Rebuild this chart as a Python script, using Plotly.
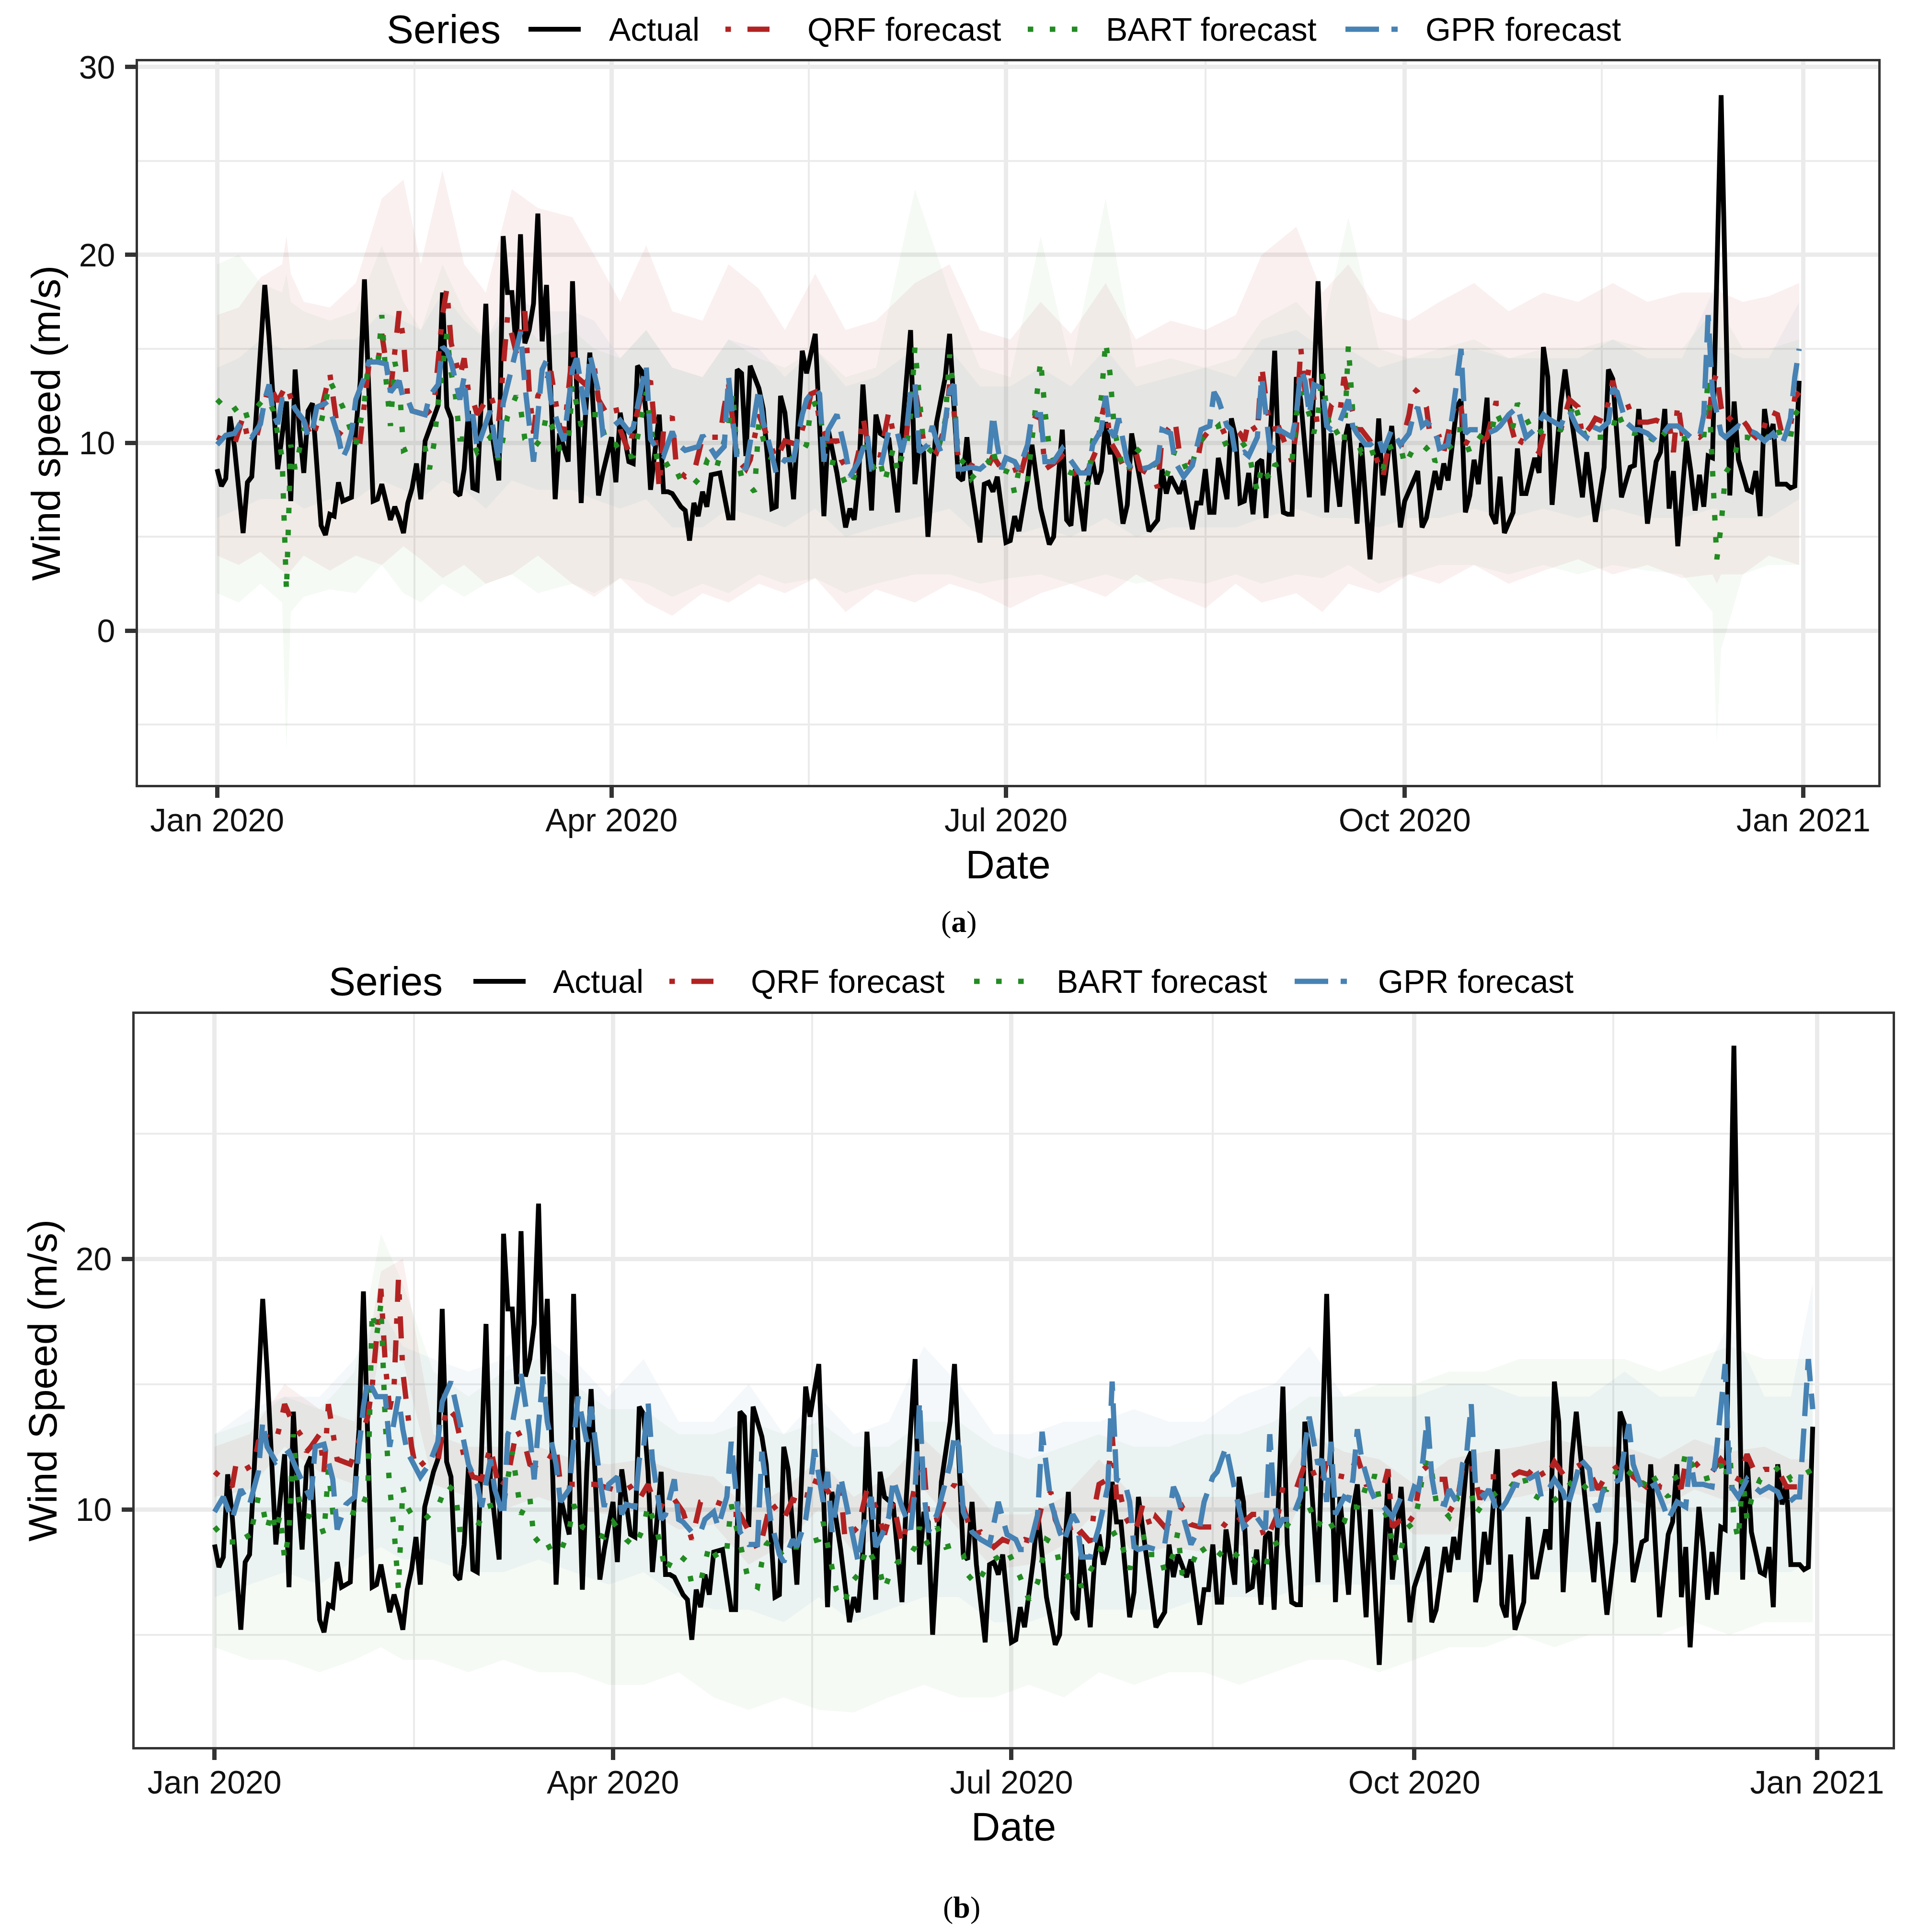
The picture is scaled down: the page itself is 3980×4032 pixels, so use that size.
import pandas as pd
import plotly.graph_objects as go

# ---------------------------------------------------------------------------
# DATA  (day offset from 2020-01-01, wind speed in m/s)
# ---------------------------------------------------------------------------
SERIES_NAMES = ["Actual", "QRF forecast", "BART forecast", "GPR forecast"]
X_TICK_DATES = ["2020-01-01", "2020-04-01", "2020-07-01", "2020-10-01", "2021-01-01"]
X_TICK_LABELS = ["Jan 2020", "Apr 2020", "Jul 2020", "Oct 2020", "Jan 2021"]
X_MINOR_DATES = ["2020-02-15 12:00", "2020-05-16 12:00", "2020-08-16", "2020-11-15 12:00"]
Y_TICKS_A = [0, 10, 20, 30]
Y_MINOR_A = [-5, 5, 15, 25]
Y_TICKS_B = [10, 20]
Y_MINOR_B = [5, 15, 25]

ACTUAL = [(0,8.6),(1,7.7),(2,8.1),(3,11.4),(4,9.8),(6,5.2),(7,7.9),(8,8.2),(9,11.4),(11,18.4),(12,15.6),(14,8.6),(16,12.2),(17,6.9),(18,13.9),(19,10.7),(20,8.4),(21,11.7),(22,12.1),(24,5.6),(25,5.1),(26,6.2),(27,6.1),(28,7.9),(29,6.9),(31,7.1),(32,10.7),(33,13.2),(34,18.7),(36,6.9),(37,7.0),(38,7.8),(40,5.9),(41,6.6),(42,6.0),(43,5.2),(44,6.8),(45,7.6),(46,8.9),(47,7.0),(48,10.1),(50,11.5),(51,12.0),(52,18.0),(53,11.9),(54,11.3),(55,7.4),(56,7.2),(57,8.6),(58,11.7),(59,7.6),(60,7.5),(62,17.4),(63,11.2),(65,8.0),(66,21.0),(67,18.0),(68,18.0),(69,15.0),(70,21.1),(71,15.3),(72,16.0),(73,17.4),(74,22.2),(75,15.4),(76,18.4),(78,7.0),(79,10.5),(81,9.0),(82,18.6),(84,6.8),(85,11.5),(86,14.8),(88,7.2),(89,8.4),(91,10.3),(92,7.9),(93,11.6),(95,9.0),(96,8.9),(97,14.1),(98,13.8),(99,11.5),(100,7.5),(101,9.5),(102,11.5),(103,7.4),(104,7.4),(105,7.3),(107,6.6),(108,6.4),(109,4.8),(110,6.8),(111,6.1),(112,7.4),(113,6.6),(114,8.3),(116,8.4),(118,6.0),(119,6.0),(120,13.9),(121,13.7),(122,9.3),(123,14.1),(125,12.9),(126,11.8),(128,6.5),(129,6.6),(130,12.5),(131,11.6),(133,7.0),(134,10.5),(135,14.9),(136,13.7),(138,15.8),(140,6.1),(141,10.7),(143,8.4),(145,5.5),(146,6.5),(147,5.9),(148,8.1),(149,13.1),(151,6.4),(152,11.5),(153,10.5),(155,10.2),(157,6.3),(158,10.5),(160,16.0),(161,7.8),(162,9.9),(163,9.5),(164,5.0),(166,11.1),(168,13.5),(169,15.8),(171,8.2),(172,8.0),(173,10.3),(174,7.8),(176,4.7),(177,7.8),(178,7.9),(179,7.4),(180,8.2),(182,4.7),(183,4.8),(184,6.1),(185,5.3),(187,8.0),(188,9.9),(190,6.5),(192,4.6),(193,5.0),(195,10.7),(196,5.9),(197,5.6),(198,8.6),(200,5.3),(201,8.0),(202,9.0),(203,7.8),(204,8.5),(205,11.1),(206,9.5),(207,9.5),(209,5.7),(210,6.7),(211,10.5),(213,7.8),(215,5.3),(217,5.9),(218,8.6),(219,7.3),(220,8.2),(222,7.3),(223,8.0),(225,5.4),(226,6.8),(227,6.8),(228,8.6),(229,6.3),(230,6.3),(231,9.2),(233,7.0),(234,11.3),(235,10.3),(236,6.8),(237,6.9),(238,8.4),(239,6.2),(240,8.9),(241,9.1),(242,6.0),(244,14.9),(245,8.6),(246,6.3),(247,6.2),(248,6.2),(249,13.5),(250,12.3),(252,7.1),(254,18.6),(256,6.3),(257,10.5),(259,6.6),(260,10.0),(261,11.0),(263,5.7),(264,10.0),(266,3.8),(268,11.3),(269,7.2),(271,10.9),(273,5.5),(274,6.9),(277,8.5),(278,5.5),(279,6.0),(281,8.5),(282,7.5),(283,8.9),(284,8.0),(286,11.9),(287,12.3),(288,6.3),(289,7.2),(290,9.1),(291,7.8),(293,12.4),(294,6.2),(295,5.7),(296,8.2),(297,5.2),(299,6.3),(300,9.7),(301,7.3),(302,7.3),(304,9.2),(305,8.4),(306,15.1),(307,13.5),(308,6.7),(310,12.1),(311,13.9),(312,12.1),(315,7.1),(316,9.5),(318,5.8),(320,8.7),(321,13.9),(322,13.4),(324,7.1),(326,8.7),(327,8.8),(328,11.8),(330,5.7),(332,9.0),(333,9.5),(334,11.8),(335,6.5),(336,8.5),(337,4.5),(339,10.1),(340,8.5),(341,6.4),(342,8.3),(343,6.6),(344,9.3),(345,9.2),(347,28.5),(349,7.2),(350,12.2),(351,9.1),(353,7.5),(354,7.4),(355,8.5),(356,6.1),(357,11.8),(358,10.2),(359,11.0),(360,7.8),(362,7.8),(363,7.6),(364,7.7),(365,13.3)]

# ---- panel (a) forecasts ----
QRF_A = [(0,10.3),(4,9.9),(6,11.4),(7,10.3),(9,10.2),(12,13.1),(14,12.2),(16,13.1),(18,11.7),(20,11.2),(22,10.2),(24,11.7),(26,13.7),(27,11.9),(28,10.4),(29,10.7),(31,10.2),(33,10.1),(34,12.3),(35,14.1),(37,14.1),(38,15.8),(40,12.7),(42,17.0),(43,15.5),(44,12.3),(45,11.7),(48,11.5),(50,11.9),(52,16.8),(53,18.2),(54,15.3),(56,13.5),(57,14.5),(58,12.7),(59,12.3),(60,11.5),(63,12.6),(65,11.2),(67,16.7),(69,14.8),(71,17.0),(72,12.8),(73,10.5),(74,12.5),(77,13.8),(79,10.9),(80,10.4),(82,14.9),(83,13.5),(85,13.1),(87,14.1),(88,12.3),(90,11.5),(92,11.9),(93,10.7),(95,9.5),(96,10.7),(98,12.7),(100,13.3),(101,10.7),(102,7.6),(103,10.7),(105,11.4),(106,8.6),(108,8.2),(110,8.4),(112,10.3),(114,10.3),(116,10.3),(117,11.9),(118,13.1),(120,9.1),(122,8.6),(123,9.1),(125,11.5),(127,10.3),(129,9.1),(131,10.1),(134,9.9),(136,11.5),(137,12.6),(138,12.7),(139,11.1),(141,10.1),(143,10.1),(144,9.1),(146,8.3),(147,8.5),(148,9.5),(149,11.4),(150,10.1),(153,9.3),(155,11.7),(156,10.5),(157,10.3),(159,10.3),(160,12.7),(161,12.9),(163,10.1),(165,9.7),(166,9.5),(168,10.9),(169,13.1),(170,11.7),(171,9.1),(173,9.0),(174,8.8),(176,8.6),(178,8.8),(179,9.3),(181,8.6),(182,8.6),(184,8.7),(185,8.0),(187,9.7),(188,11.5),(190,11.3),(191,8.6),(193,8.9),(195,9.3),(197,8.6),(199,8.0),(201,8.6),(203,9.7),(204,11.3),(205,12.3),(206,10.1),(208,9.3),(210,8.3),(212,9.5),(213,8.6),(216,8.2),(217,7.6),(218,10.3),(221,11.2),(222,9.5),(224,9.0),(226,8.8),(227,10.1),(229,10.7),(231,10.5),(233,10.7),(234,10.9),(236,10.5),(237,10.1),(238,11.2),(240,10.5),(241,14.1),(242,12.3),(243,10.7),(245,10.8),(248,9.0),(249,10.7),(250,15.1),(251,12.7),(252,14.1),(254,10.7),(256,10.9),(257,11.9),(259,11.5),(260,13.5),(261,12.5),(263,10.7),(264,10.7),(266,10.1),(269,8.2),(270,9.5),(273,9.7),(275,11.5),(276,12.9),(277,12.7),(279,11.9),(280,10.1),(282,10.3),(283,9.5),(285,11.5),(286,12.3),(287,11.9),(288,9.9),(289,10.3),(292,10.1),(293,10.3),(295,12.1),(296,12.1),(298,11.4),(299,10.5),(300,9.7),(301,10.1),(303,9.9),(305,9.5),(306,10.5),(310,10.7),(312,12.3),(314,11.9),(315,10.3),(317,10.9),(318,11.3),(320,11.1),(322,13.3),(323,12.3),(325,12.3),(327,11.1),(328,11.1),(330,11.1),(332,11.2),(333,11.1),(335,11.1),(336,9.5),(337,12.1),(338,10.5),(340,10.5),(342,10.3),(343,10.5),(344,10.9),(345,13.1),(346,13.7),(347,11.9),(348,11.1),(350,11.5),(351,11.5),(353,10.9),(354,10.5),(356,10.1),(358,11.7),(360,11.5),(361,10.5),(363,10.9),(364,12.4),(365,12.7)]

BART_A = [(0,12.3),(3,11.6),(6,12.1),(7,11.3),(11,12.4),(12,12.2),(13,11.7),(14,10.5),(15,9.2),(16,2.1),(17,9.9),(18,8.6),(20,10.7),(22,11.0),(24,11.1),(25,12.1),(26,13.3),(29,11.9),(32,9.9),(34,12.2),(35,14.5),(37,13.9),(38,16.8),(39,13.3),(40,10.9),(41,14.3),(42,13.3),(43,9.6),(45,9.8),(48,9.7),(49,8.6),(50,9.9),(51,12.1),(53,15.8),(54,13.7),(55,12.5),(56,10.2),(58,10.2),(59,10.1),(60,9.5),(63,10.3),(65,9.1),(67,11.4),(69,12.5),(70,11.9),(71,10.2),(73,9.7),(75,10.3),(76,11.5),(78,10.5),(79,9.7),(81,9.9),(82,13.1),(84,10.9),(86,11.5),(88,11.5),(90,9.9),(92,9.9),(94,9.2),(96,9.3),(97,10.3),(99,12.7),(100,10.9),(101,9.7),(102,8.6),(105,9.0),(107,8.0),(108,7.9),(110,7.8),(112,8.3),(113,9.0),(115,8.5),(118,10.9),(119,12.7),(120,9.2),(121,8.2),(124,7.4),(125,11.1),(127,9.3),(129,9.1),(131,9.3),(133,9.1),(135,9.5),(136,9.9),(137,12.0),(138,12.1),(139,11.9),(140,9.9),(141,9.0),(143,8.9),(145,7.8),(146,7.6),(148,8.8),(149,10.1),(150,9.2),(152,8.5),(153,9.0),(154,7.9),(156,9.7),(157,8.4),(158,9.3),(159,9.7),(160,11.5),(161,15.1),(162,12.7),(163,9.9),(164,9.7),(166,9.3),(168,11.2),(169,14.7),(170,12.6),(171,9.2),(173,8.8),(174,8.1),(176,8.6),(178,9.0),(179,9.7),(180,8.6),(182,8.5),(183,8.4),(184,7.3),(185,8.6),(187,8.0),(188,10.3),(189,12.7),(190,14.4),(191,11.7),(192,9.7),(193,9.1),(195,8.6),(197,8.4),(199,8.4),(201,7.8),(202,10.1),(203,11.2),(204,12.4),(205,15.4),(206,13.7),(207,10.7),(209,8.6),(210,8.4),(212,9.7),(213,9.5),(216,9.0),(218,8.2),(219,8.2),(221,9.6),(222,9.5),(224,8.4),(225,8.9),(226,9.7),(228,10.5),(230,10.7),(231,10.9),(232,9.9),(234,10.1),(236,10.2),(237,9.9),(238,9.5),(239,8.4),(240,7.4),(241,8.8),(243,8.0),(244,8.8),(246,9.0),(247,9.0),(248,9.0),(249,11.5),(250,12.7),(252,11.5),(253,10.5),(254,11.5),(255,13.8),(256,11.7),(257,10.5),(258,10.7),(260,9.9),(261,15.2),(262,11.7),(263,10.1),(264,9.5),(266,9.9),(267,9.2),(269,8.6),(270,9.7),(272,9.9),(273,9.9),(274,8.8),(276,9.7),(278,9.9),(279,9.7),(280,9.9),(281,9.0),(283,9.5),(285,9.9),(286,10.7),(287,10.7),(289,9.5),(290,9.9),(292,10.5),(294,10.5),(295,11.7),(297,10.7),(299,10.9),(300,12.1),(302,11.3),(304,10.4),(306,10.7),(307,10.9),(310,10.7),(312,11.3),(313,12.2),(316,10.1),(318,10.3),(320,10.3),(322,10.7),(323,11.7),(325,10.6),(327,10.5),(329,10.7),(331,10.2),(332,10.1),(333,10.7),(335,10.3),(337,10.3),(338,10.2),(340,10.3),(342,10.3),(343,10.3),(344,13.5),(345,9.0),(346,3.8),(347,5.6),(348,8.4),(350,9.1),(351,10.3),(353,10.3),(355,10.1),(357,10.1),(359,10.7),(360,10.9),(361,10.1),(363,10.3),(364,11.5),(365,11.8)]

GPR_A = [(0,9.9),(2,10.4),(4,10.5),(5,10.9),(7,10.5),(8,10.3),(10,11.0),(11,12.3),(12,13.1),(13,11.5),(14,11.0),(15,12.3),(17,12.3),(18,11.8),(20,11.2),(21,10.3),(22,10.7),(23,11.9),(25,12.1),(26,11.8),(28,10.3),(29,9.2),(30,9.7),(31,10.5),(32,12.3),(34,13.5),(35,14.3),(37,14.3),(39,14.2),(40,12.7),(42,13.3),(43,12.3),(44,12.3),(45,11.7),(48,11.5),(49,12.5),(51,13.1),(52,15.1),(53,14.9),(54,14.3),(56,12.3),(57,13.5),(58,10.9),(59,11.5),(60,9.7),(63,11.7),(65,9.0),(66,12.1),(70,15.9),(71,13.1),(73,9.0),(75,13.9),(76,14.4),(77,12.3),(79,10.7),(80,10.1),(82,13.9),(83,14.5),(85,11.5),(86,14.7),(88,12.7),(89,10.5),(91,10.8),(93,11.2),(95,10.6),(96,10.8),(98,13.1),(99,14.1),(100,10.2),(102,9.5),(103,9.3),(105,10.6),(106,10.0),(108,9.6),(111,9.8),(112,10.4),(115,9.3),(117,9.8),(118,13.5),(120,9.0),(122,8.6),(125,12.9),(126,11.1),(127,10.3),(129,8.4),(131,9.1),(133,9.1),(135,11.5),(136,12.3),(138,12.9),(139,12.6),(140,9.0),(141,10.7),(143,11.5),(145,9.5),(146,8.2),(147,8.6),(148,9.0),(150,10.4),(151,8.6),(153,8.6),(154,9.7),(155,10.7),(157,10.5),(158,9.5),(159,10.5),(160,12.7),(161,13.2),(162,9.5),(164,9.9),(165,10.9),(166,10.1),(167,9.5),(169,12.8),(170,13.1),(171,8.6),(172,8.6),(174,8.7),(176,8.6),(178,9.0),(179,11.5),(180,9.9),(181,8.6),(182,9.2),(184,9.0),(185,8.6),(187,9.9),(188,11.5),(190,11.5),(191,9.0),(193,9.0),(195,9.7),(197,9.0),(199,8.4),(201,8.4),(202,9.9),(204,10.7),(205,12.5),(206,10.7),(207,10.3),(208,11.3),(209,10.1),(210,9.0),(211,8.6),(213,8.6),(215,8.7),(217,9.0),(218,10.7),(220,10.5),(221,9.0),(223,8.2),(225,8.8),(227,10.7),(229,10.9),(230,12.7),(231,12.3),(233,10.9),(234,10.7),(235,9.3),(237,9.5),(238,9.3),(240,10.3),(241,13.5),(243,9.5),(244,9.9),(245,10.7),(248,10.3),(249,11.5),(250,13.9),(251,13.3),(252,11.5),(253,13.1),(255,12.9),(256,10.9),(257,10.7),(259,11.1),(261,12.3),(262,10.9),(263,10.5),(265,9.9),(266,9.9),(268,10.3),(269,9.5),(271,10.7),(273,9.9),(275,10.5),(276,11.5),(277,11.9),(278,10.9),(279,11.1),(281,10.7),(282,9.7),(284,9.9),(285,11.5),(286,13.3),(287,15.0),(288,10.5),(289,10.7),(291,10.7),(293,10.5),(295,10.7),(296,10.9),(298,11.5),(300,11.9),(302,10.3),(304,10.7),(306,11.5),(307,11.3),(310,10.9),(311,11.5),(312,11.7),(314,10.7),(316,10.3),(317,10.9),(319,10.7),(321,11.1),(322,12.9),(323,12.7),(325,11.1),(327,10.7),(328,10.7),(330,10.5),(332,10.1),(333,10.3),(335,10.9),(337,10.9),(338,10.7),(340,10.3),(342,10.3),(343,11.5),(344,16.8),(345,12.7),(347,10.5),(348,10.3),(350,10.7),(351,10.9),(353,10.7),(355,10.5),(357,10.1),(359,10.5),(360,10.1),(361,9.9),(362,10.5),(363,11.3),(364,13.5),(365,15.0)]

# ---- panel (b) forecasts ----
QRF_B = [(0,11.5),(4,10.9),(5,11.9),(7,11.6),(9,11.8),(10,12.7),(12,12.9),(14,12.7),(15,13.4),(16,14.2),(18,13.4),(20,12.9),(21,12.3),(22,12.5),(24,13.0),(25,11.5),(26,14.2),(28,12.0),(31,11.8),(33,12.7),(35,13.7),(36,14.9),(38,18.8),(39,15.8),(40,14.0),(41,14.9),(42,19.2),(43,15.5),(44,14.0),(45,12.5),(46,11.6),(48,11.9),(49,11.9),(51,11.9),(53,14.1),(55,13.7),(57,12.1),(59,11.3),(61,11.2),(63,12.5),(65,10.8),(67,11.3),(69,13.2),(71,12.5),(72,11.8),(74,11.6),(76,11.9),(78,12.5),(79,11.0),(82,11.0),(84,11.0),(87,11.0),(91,10.8),(93,10.7),(95,10.9),(97,10.4),(99,11.0),(100,10.5),(102,10.1),(103,10.5),(105,10.4),(107,9.9),(109,8.8),(111,10.3),(113,10.4),(116,10.2),(118,9.8),(120,9.8),(123,8.8),(124,8.4),(125,8.8),(127,10.3),(130,9.6),(132,10.4),(135,10.2),(136,11.2),(139,11.0),(141,10.5),(143,10.8),(144,8.8),(147,9.3),(149,10.8),(151,10.1),(153,9.0),(155,10.3),(157,8.6),(159,10.1),(161,11.9),(162,11.8),(163,9.5),(165,9.6),(167,10.5),(169,11.0),(171,10.1),(173,9.0),(175,9.1),(178,8.5),(180,8.8),(183,8.6),(185,8.8),(187,8.7),(189,10.2),(190,10.5),(191,10.7),(192,9.6),(193,9.2),(195,9.6),(196,8.8),(198,9.1),(200,8.7),(201,10.1),(202,11.0),(204,11.2),(205,13.0),(206,10.5),(207,10.5),(208,9.7),(210,9.1),(211,9.5),(212,10.2),(214,9.2),(215,9.7),(217,9.3),(219,9.6),(221,10.1),(223,9.4),(225,9.3),(228,9.3),(229,9.6),(232,9.2),(234,9.6),(235,9.5),(237,9.8),(238,9.8),(240,8.8),(241,9.1),(243,9.9),(244,10.9),(246,10.9),(247,10.8),(249,11.8),(250,11.9),(252,11.0),(253,11.2),(254,11.9),(255,11.4),(258,11.3),(259,11.3),(261,12.1),(263,11.0),(265,11.0),(267,10.9),(268,11.6),(269,9.3),(271,9.6),(272,9.3),(274,9.8),(276,11.8),(279,11.2),(281,11.2),(282,9.9),(284,10.5),(285,11.6),(287,11.9),(289,10.4),(291,11.3),(293,11.3),(296,11.3),(298,11.5),(300,11.4),(302,11.8),(304,11.2),(306,11.9),(308,11.4),(310,11.6),(312,11.8),(314,11.5),(316,10.8),(318,11.4),(321,11.8),(323,11.6),(324,11.3),(327,10.9),(329,11.2),(330,10.9),(333,10.8),(335,10.9),(336,11.9),(338,11.9),(340,11.5),(342,11.5),(344,12.0),(345,11.8),(347,11.3),(348,11.2),(350,12.2),(352,11.4),(354,11.6),(357,11.6),(359,10.9),(362,10.9),(365,10.9)]

BART_B = [(0,9.3),(3,8.7),(5,8.7),(7,9.1),(8,8.8),(9,9.7),(10,10.5),(11,10.1),(12,9.2),(13,9.9),(14,9.1),(15,9.8),(16,8.0),(17,9.1),(18,13.0),(19,10.7),(20,9.8),(22,9.7),(24,9.5),(25,9.0),(26,11.6),(27,9.9),(29,9.9),(31,9.9),(33,9.8),(35,10.7),(36,17.9),(37,16.9),(38,18.2),(39,13.4),(40,10.9),(41,9.2),(42,6.8),(43,10.9),(44,10.1),(45,9.8),(48,9.6),(51,10.1),(53,11.0),(55,10.7),(56,9.2),(58,9.2),(60,9.3),(62,10.1),(64,10.2),(66,10.2),(68,12.3),(70,9.8),(72,10.5),(73,8.7),(75,9.0),(77,8.3),(79,8.3),(81,9.2),(82,10.2),(84,9.3),(86,9.1),(89,8.9),(91,9.5),(94,8.8),(96,8.5),(98,9.3),(99,10.2),(101,9.2),(102,8.4),(103,7.5),(105,8.2),(106,8.2),(108,7.9),(109,7.0),(111,7.1),(113,8.6),(115,8.0),(117,8.4),(118,10.2),(120,8.8),(121,7.9),(122,7.1),(124,6.9),(125,7.9),(126,8.6),(127,8.8),(130,8.1),(132,8.5),(134,8.5),(136,8.7),(138,8.8),(139,9.5),(140,8.6),(141,7.7),(142,6.8),(144,6.3),(145,7.0),(147,7.4),(149,8.5),(152,7.5),(153,6.8),(154,7.3),(156,7.9),(158,8.0),(160,8.5),(161,9.3),(162,8.6),(164,8.8),(165,9.3),(167,8.5),(169,8.6),(171,8.2),(172,7.4),(174,7.0),(177,7.9),(179,8.1),(181,8.4),(184,7.3),(186,6.4),(188,7.1),(189,7.9),(190,8.8),(192,8.6),(193,7.8),(195,7.3),(197,7.4),(198,6.9),(200,7.5),(202,8.2),(203,8.8),(205,9.0),(206,9.1),(207,8.7),(209,7.6),(210,8.4),(212,9.1),(213,8.2),(216,8.2),(217,7.5),(219,8.2),(220,9.1),(221,7.4),(223,7.7),(225,8.6),(227,8.1),(229,8.1),(231,8.5),(232,8.4),(235,7.9),(237,8.0),(239,7.7),(240,7.6),(241,8.5),(243,8.7),(244,9.1),(246,9.6),(247,9.9),(249,10.9),(250,10.1),(252,9.3),(253,9.7),(254,9.7),(256,9.1),(258,9.5),(259,10.1),(261,10.1),(262,10.8),(264,10.7),(265,11.4),(266,10.4),(268,9.6),(269,8.7),(270,7.9),(271,8.4),(272,9.2),(274,9.5),(275,10.3),(276,11.5),(277,12.0),(278,11.5),(279,10.3),(282,9.7),(284,10.5),(287,10.7),(288,9.8),(290,10.3),(293,10.7),(295,10.7),(297,11.1),(299,11.4),(300,10.7),(302,10.5),(305,10.2),(308,10.7),(311,11.3),(314,10.7),(316,10.8),(318,10.8),(321,11.8),(323,11.5),(326,10.9),(328,11.5),(330,10.9),(332,10.5),(333,11.2),(335,11.4),(336,12.3),(338,11.6),(340,11.2),(342,11.3),(344,11.8),(345,11.2),(346,12.5),(347,9.6),(348,8.8),(349,11.3),(350,9.6),(351,10.4),(353,11.2),(356,11.5),(358,11.8),(360,11.2),(362,11.4),(363,11.4),(365,11.6)]

GPR_B = [(0,9.9),(2,10.5),(4,9.6),(6,10.8),(8,10.2),(10,11.5),(11,13.5),(12,12.5),(14,11.9),(17,12.3),(19,11.5),(21,10.7),(22,10.4),(23,12.5),(25,12.6),(27,11.2),(28,9.2),(30,10.2),(32,10.5),(33,12.5),(34,14.1),(35,15.2),(37,14.5),(39,14.5),(40,12.5),(42,14.5),(43,13.2),(44,12.3),(47,11.3),(49,11.8),(51,12.7),(52,14.3),(54,15.1),(56,13.5),(57,12.6),(58,11.8),(60,11.0),(61,10.1),(63,12.0),(64,10.8),(66,9.7),(67,13.0),(68,13.4),(70,15.4),(72,13.0),(73,11.2),(74,13.4),(75,15.3),(76,13.5),(78,11.8),(79,10.3),(81,10.8),(82,12.7),(83,14.5),(85,12.7),(86,14.1),(88,11.2),(89,10.1),(90,11.0),(92,11.3),(93,9.8),(94,10.2),(96,10.1),(97,12.0),(98,12.5),(99,14.3),(100,12.0),(102,9.6),(103,9.8),(105,11.2),(106,9.6),(107,9.5),(109,9.1),(111,9.1),(112,9.6),(114,9.9),(115,9.3),(117,10.5),(118,12.7),(119,10.9),(120,9.1),(122,8.6),(124,8.6),(125,12.3),(126,11.0),(127,9.6),(129,8.2),(130,7.9),(132,8.8),(133,8.5),(135,9.6),(136,10.8),(137,12.4),(139,10.3),(140,11.5),(141,9.1),(143,11.3),(145,9.6),(147,7.9),(148,9.1),(150,10.5),(151,8.5),(153,9.2),(154,9.7),(155,11.2),(157,10.1),(159,9.2),(160,10.8),(161,14.3),(162,10.7),(163,9.1),(165,9.8),(166,10.5),(168,11.8),(169,13.0),(170,12.5),(171,9.9),(173,9.1),(175,8.8),(177,8.6),(179,10.3),(181,9.0),(183,8.8),(184,8.4),(186,8.4),(187,9.2),(188,9.8),(189,13.1),(190,11.5),(191,10.3),(193,9.1),(194,8.7),(196,9.8),(197,9.5),(198,8.1),(200,8.1),(202,9.3),(204,10.9),(205,15.1),(206,11.2),(208,11.0),(209,10.3),(210,8.5),(211,8.4),(213,8.5),(215,8.4),(217,8.6),(218,9.6),(219,10.9),(220,10.5),(222,9.3),(223,8.6),(225,9.3),(226,10.3),(228,11.3),(229,11.5),(231,12.5),(232,11.5),(233,10.8),(235,9.3),(237,9.6),(238,9.7),(240,9.2),(241,13.0),(242,10.3),(243,9.3),(244,9.6),(246,9.6),(248,10.5),(249,12.5),(250,13.7),(252,11.8),(253,12.0),(254,10.3),(255,12.7),(256,9.8),(258,10.5),(259,10.4),(260,11.2),(261,13.2),(262,12.0),(264,10.8),(265,10.4),(267,10.1),(269,9.7),(271,10.5),(273,10.3),(274,10.9),(275,10.8),(276,12.0),(277,13.7),(278,11.3),(279,10.3),(281,10.2),(282,10.8),(284,10.2),(285,11.8),(286,12.3),(287,14.2),(288,10.9),(290,10.5),(291,10.8),(292,10.4),(293,9.8),(295,10.3),(297,11.0),(299,10.9),(300,11.2),(302,11.4),(303,10.5),(305,10.9),(306,11.2),(308,10.7),(309,10.1),(311,11.3),(312,12.0),(314,11.6),(315,10.3),(316,9.9),(317,10.7),(319,11.0),(321,11.2),(322,12.4),(323,13.4),(324,11.8),(326,10.8),(327,10.8),(329,11.0),(331,10.1),(332,9.6),(334,10.3),(336,10.1),(337,12.1),(338,11.0),(340,11.0),(342,10.9),(343,12.3),(344,14.0),(345,15.8),(346,11.0),(348,10.5),(350,11.2),(351,11.0),(353,10.7),(355,10.9),(357,10.7),(358,10.3),(359,10.2),(361,10.5),(362,10.5),(363,13.0),(364,16.0),(365,14.0)]

# ---- prediction-interval ribbons (coarse read of the faint bands) ----
BAND_A_DAYS = [0,5,10,15,16,17,20,26,32,38,43,47,52,57,62,68,74,82,87,93,99,105,112,118,125,131,138,145,152,161,169,176,183,190,197,205,212,220,228,235,241,249,255,261,268,275,282,290,298,306,314,322,330,338,345,346,347,352,358,365]
QRF_A_HI = [16.8,17.2,18.8,19.5,21.0,19.0,17.5,17.2,18.5,23.0,24.0,19.5,24.5,19.5,18.0,23.5,22.5,22.0,20.0,17.5,20.5,17.0,16.5,19.5,18.2,16.0,19.0,16.0,16.5,18.5,19.5,16.0,15.5,17.5,15.8,18.5,15.5,16.5,16.0,16.8,20.0,21.5,18.0,19.5,17.0,16.5,17.5,18.5,17.0,18.0,17.5,18.5,17.5,18.0,18.0,18.5,18.0,17.5,17.8,18.5]
QRF_A_LO = [4.0,3.5,4.2,3.2,3.0,3.2,4.0,3.2,4.0,3.5,4.5,3.8,2.8,3.5,2.5,3.0,4.0,2.5,1.8,2.8,1.5,0.8,2.0,1.5,2.5,2.0,2.8,1.0,2.2,1.5,2.5,2.0,1.2,2.0,2.5,1.8,3.0,2.0,1.2,2.5,1.5,2.0,1.0,2.5,2.0,3.0,2.5,3.5,2.5,3.2,3.8,3.0,3.5,2.8,3.0,2.5,3.0,3.0,4.0,3.5]
BART_A_HI = [19.5,20.0,18.5,18.0,19.0,17.5,17.0,16.5,17.0,20.5,17.5,16.0,19.5,17.0,15.5,17.0,15.5,16.0,15.0,14.5,16.0,14.0,13.5,15.5,14.5,14.0,15.0,13.5,14.0,23.5,18.0,14.0,13.5,21.0,14.0,23.0,14.0,14.5,14.0,14.5,16.5,17.5,16.0,22.0,15.0,14.5,15.0,15.5,14.5,15.0,15.0,15.5,15.0,15.0,17.0,20.0,17.0,15.0,15.0,15.5]
BART_A_LO = [2.0,1.5,2.5,1.5,-6.4,1.0,1.8,2.2,2.0,3.5,2.0,1.5,2.5,1.8,2.5,3.0,2.0,2.5,2.0,2.8,2.5,1.8,2.5,2.0,3.0,2.5,2.8,2.0,2.5,3.0,3.0,2.5,2.8,3.0,2.5,3.0,2.5,2.8,2.5,3.0,2.5,3.0,2.8,3.5,2.5,3.0,3.5,3.5,3.0,3.5,3.0,3.5,3.2,3.0,1.0,-6.0,-1.0,3.0,3.5,3.5]
GPR_A_HI = [14.0,14.5,15.5,15.0,15.0,15.0,15.0,15.5,15.5,17.0,16.5,16.0,18.0,16.5,15.5,18.0,17.0,17.0,16.5,14.5,16.0,14.0,13.5,15.5,15.0,13.5,15.0,13.0,13.5,15.0,15.0,13.0,13.0,14.0,13.0,15.0,13.0,13.5,14.0,13.5,15.5,16.0,15.0,15.0,14.0,14.5,14.5,15.0,14.5,14.5,14.5,15.5,14.5,14.5,18.0,17.0,15.0,14.5,14.5,17.5]
GPR_A_LO = [6.0,6.5,7.0,7.0,7.0,7.0,6.5,7.0,7.0,8.0,7.5,7.0,8.0,7.5,6.5,8.0,7.5,7.5,7.0,6.5,7.0,5.5,5.5,6.5,6.0,5.5,6.5,5.0,5.5,6.0,6.5,5.0,5.0,5.5,5.0,6.0,5.0,5.5,5.5,5.5,6.0,6.5,6.0,6.0,5.5,6.0,6.0,6.5,6.0,6.5,6.0,6.5,6.0,6.0,6.5,6.5,6.0,6.0,6.0,7.0]

BAND_B_DAYS = [0,8,16,24,32,38,43,50,58,66,74,82,90,98,106,114,122,130,138,146,154,162,170,178,186,194,202,210,218,226,234,242,250,258,266,274,282,290,298,306,314,322,330,338,346,354,360,365]
QRF_B_HI = [12.5,13.0,15.0,14.0,13.5,19.5,20.0,13.0,12.5,12.5,12.5,12.0,11.8,12.0,11.5,11.3,10.0,10.8,12.0,10.5,11.3,12.8,11.5,9.8,9.8,10.5,12.0,10.5,10.5,10.5,10.5,10.8,13.0,12.3,12.0,11.0,12.0,12.3,12.5,12.8,12.5,12.5,12.0,12.8,12.3,12.5,12.0,12.0]
QRF_B_LO = [10.5,10.8,12.5,11.5,11.0,16.5,16.0,11.0,10.5,10.0,10.5,10.0,9.8,10.0,9.2,9.4,7.8,8.6,10.0,8.3,9.3,10.8,9.2,7.6,7.8,8.6,10.0,8.2,8.5,8.3,8.6,8.0,11.0,10.3,10.0,9.0,9.0,10.3,10.5,10.8,10.5,10.5,10.0,10.8,10.3,10.5,10.0,10.0]
BART_B_HI = [13.0,13.5,14.5,14.0,15.5,21.0,19.0,15.5,14.5,15.5,16.0,15.0,14.0,14.0,13.0,13.0,13.5,13.0,13.5,12.5,12.5,13.5,13.5,12.5,12.0,12.5,13.0,12.5,12.5,13.0,13.0,13.5,14.5,14.5,15.0,15.0,15.5,15.5,16.0,16.0,16.0,16.0,15.5,16.0,16.5,16.0,16.0,16.0]
BART_B_LO = [4.5,4.0,4.0,3.5,4.0,4.5,4.0,4.0,3.5,4.0,3.5,3.5,3.0,3.0,3.5,2.5,2.0,2.5,2.0,1.9,2.5,3.0,2.5,2.5,3.0,2.5,3.5,3.0,3.5,3.5,3.0,3.5,4.0,4.0,3.5,4.0,4.5,4.5,5.0,4.5,5.0,5.0,5.0,5.5,5.0,5.5,5.5,5.5]
GPR_B_HI = [13.0,14.0,14.5,14.5,16.0,18.0,16.5,16.0,15.5,16.0,17.0,16.0,14.5,16.0,13.5,13.5,15.0,13.0,14.5,13.0,13.5,16.5,15.0,13.0,13.0,13.5,13.5,14.0,13.5,13.5,14.5,15.0,16.5,14.5,14.5,14.5,15.0,15.0,14.5,14.5,14.5,15.5,14.5,14.5,17.5,14.5,14.5,19.0]
GPR_B_LO = [6.5,7.0,7.5,7.0,8.0,8.5,8.0,8.0,7.5,7.5,8.0,7.5,7.0,7.5,6.5,6.0,6.0,5.5,6.5,5.5,6.0,6.5,6.5,5.5,5.5,6.0,6.0,6.0,6.0,6.5,6.5,6.5,7.0,7.0,7.0,7.0,7.5,7.5,7.5,7.5,7.5,7.5,7.5,7.5,7.5,7.5,7.5,8.0]

# ---------------------------------------------------------------------------
# STYLE / LAYOUT
# ---------------------------------------------------------------------------
W, H = 3980, 4032
BASE = pd.Timestamp("2020-01-01")
FONT = "Liberation Sans, Arial, Helvetica, sans-serif"
SERIF = "Liberation Serif, Times New Roman, serif"
COLORS = {"Actual": "#000000", "QRF forecast": "#B22222",
          "BART forecast": "#228B22", "GPR forecast": "#4682B4"}
DASHES = {"Actual": "solid", "QRF forecast": "11.5px,34.5px,46px,34.5px",
          "BART forecast": "11.5px,34.5px", "GPR forecast": "70px,26px"}
WIDTHS = {"Actual": 10, "QRF forecast": 11, "BART forecast": 11, "GPR forecast": 11}
BAND_FILL = {"QRF forecast": "rgba(178,34,34,0.065)",
             "BART forecast": "rgba(34,139,34,0.045)",
             "GPR forecast": "rgba(70,130,180,0.06)"}
TICK_TEXT = "#111111"


def dates(days):
    return [BASE + pd.Timedelta(days=float(d)) for d in days]


def px_x(x):
    return x / W


def px_y(y):
    return 1 - y / H


X_RANGE = [BASE + pd.Timedelta(days=-18.25), BASE + pd.Timedelta(days=383.25)]

fig = go.Figure()


def add_band(days, lo, hi, name, xa, ya):
    d = dates(days)
    fig.add_trace(go.Scatter(
        x=d + d[::-1], y=list(hi) + list(lo)[::-1], fill="toself",
        fillcolor=BAND_FILL[name], line=dict(width=0), mode="lines",
        hoverinfo="skip", showlegend=False, xaxis=xa, yaxis=ya))


def add_line(pairs, name, xa, ya):
    pairs = sorted(pairs)
    fig.add_trace(go.Scatter(
        x=dates([p[0] for p in pairs]), y=[p[1] for p in pairs], mode="lines",
        name=name, line=dict(color=COLORS[name], width=WIDTHS[name],
                             dash=DASHES[name]),
        showlegend=False, xaxis=xa, yaxis=ya))


# panel (a)
add_band(BAND_A_DAYS, QRF_A_LO, QRF_A_HI, "QRF forecast", "x", "y")
add_band(BAND_A_DAYS, BART_A_LO, BART_A_HI, "BART forecast", "x", "y")
add_band(BAND_A_DAYS, GPR_A_LO, GPR_A_HI, "GPR forecast", "x", "y")
add_line(ACTUAL, "Actual", "x", "y")
add_line(QRF_A, "QRF forecast", "x", "y")
add_line(BART_A, "BART forecast", "x", "y")
add_line(GPR_A, "GPR forecast", "x", "y")

# panel (b)
add_band(BAND_B_DAYS, QRF_B_LO, QRF_B_HI, "QRF forecast", "x2", "y2")
add_band(BAND_B_DAYS, BART_B_LO, BART_B_HI, "BART forecast", "x2", "y2")
add_band(BAND_B_DAYS, GPR_B_LO, GPR_B_HI, "GPR forecast", "x2", "y2")
add_line(ACTUAL, "Actual", "x2", "y2")
add_line(QRF_B, "QRF forecast", "x2", "y2")
add_line(BART_B, "BART forecast", "x2", "y2")
add_line(GPR_B, "GPR forecast", "x2", "y2")

GRID = "#EBEBEB"
BORDER = "#333333"


def x_axis(domain, anchor):
    return dict(
        domain=domain, anchor=anchor, type="date", range=X_RANGE,
        tickmode="array", tickvals=X_TICK_DATES, ticktext=X_TICK_LABELS,
        showgrid=True, gridcolor=GRID, gridwidth=8.5,
        minor=dict(tickmode="array", tickvals=X_MINOR_DATES, showgrid=True,
                   gridcolor=GRID, gridwidth=4.3, ticks=""),
        showline=True, mirror=True, linecolor=BORDER, linewidth=5,
        ticks="outside", ticklen=22, tickwidth=9, tickcolor=BORDER,
        tickfont=dict(family=FONT, size=68, color=TICK_TEXT),
        ticklabelstandoff=-12,
        title=dict(text="Date", font=dict(family=FONT, size=84, color="black"),
                   standoff=28),
        zeroline=False, automargin=False, fixedrange=True)


def y_axis(domain, anchor, rng, ticks, minor, title):
    return dict(
        domain=domain, anchor=anchor, range=rng,
        tickmode="array", tickvals=ticks, ticktext=[str(t) for t in ticks],
        showgrid=True, gridcolor=GRID, gridwidth=8.5,
        minor=dict(tickmode="array", tickvals=minor, showgrid=True,
                   gridcolor=GRID, gridwidth=4.3, ticks=""),
        showline=True, mirror=True, linecolor=BORDER, linewidth=5,
        ticks="outside", ticklen=22, tickwidth=9, tickcolor=BORDER,
        tickfont=dict(family=FONT, size=68, color=TICK_TEXT),
        ticklabelstandoff=7,
        title=dict(text=title, font=dict(family=FONT, size=84, color="black"),
                   standoff=13),
        zeroline=False, automargin=False, fixedrange=True)


fig.update_layout(
    width=W, height=H, margin=dict(l=0, r=0, t=0, b=0),
    paper_bgcolor="white", plot_bgcolor="white", showlegend=False,
    font=dict(family=FONT, size=68, color="black"),
    xaxis=x_axis([px_x(288), px_x(3920)], "y"),
    yaxis=y_axis([px_y(1638), px_y(128)], "x", [-8.2, 30.3],
                 Y_TICKS_A, Y_MINOR_A, "Wind speed (m/s)"),
    xaxis2=x_axis([px_x(281), px_x(3950)], "y2"),
    yaxis2=y_axis([px_y(3646), px_y(2116)], "x2", [0.52, 29.77],
                  Y_TICKS_B, Y_MINOR_B, "Wind Speed (m/s)"),
)

# ---- manual legends (ggplot-style, on top of each panel) ----
KEY_LEN = 109


def add_legend(y_mid, series_x, key_x, text_x):
    fig.add_annotation(x=px_x(series_x), y=px_y(y_mid), xref="paper", yref="paper",
                       text="Series", showarrow=False, xanchor="left",
                       yanchor="middle", font=dict(family=FONT, size=84, color="black"))
    for name, kx, tx in zip(SERIES_NAMES, key_x, text_x):
        fig.add_shape(type="line", xref="paper", yref="paper",
                      x0=px_x(kx), x1=px_x(kx + KEY_LEN),
                      y0=px_y(y_mid), y1=px_y(y_mid),
                      line=dict(color=COLORS[name], width=WIDTHS[name],
                                dash=DASHES[name]))
        fig.add_annotation(x=px_x(tx), y=px_y(y_mid), xref="paper", yref="paper",
                           text=name, showarrow=False, xanchor="left",
                           yanchor="middle",
                           font=dict(family=FONT, size=68, color="black"))


add_legend(61, 805, [1103, 1514, 2145, 2808], [1269, 1683, 2306, 2973])
add_legend(2048, 684, [988, 1397, 2033, 2702], [1152, 1565, 2203, 2874])

# ---- panel captions ----
fig.add_annotation(x=px_x(2002), y=px_y(1923), xref="paper", yref="paper",
                   text="(<b>a</b>)", showarrow=False, xanchor="center",
                   yanchor="middle", font=dict(family=SERIF, size=64, color="black"))
fig.add_annotation(x=px_x(2007), y=px_y(3980), xref="paper", yref="paper",
                   text="(<b>b</b>)", showarrow=False, xanchor="center",
                   yanchor="middle", font=dict(family=SERIF, size=64, color="black"))

fig.write_html("out.html", config={"displayModeBar": False},
               post_script="document.body.style.margin='0';document.body.style.overflow='hidden';")
